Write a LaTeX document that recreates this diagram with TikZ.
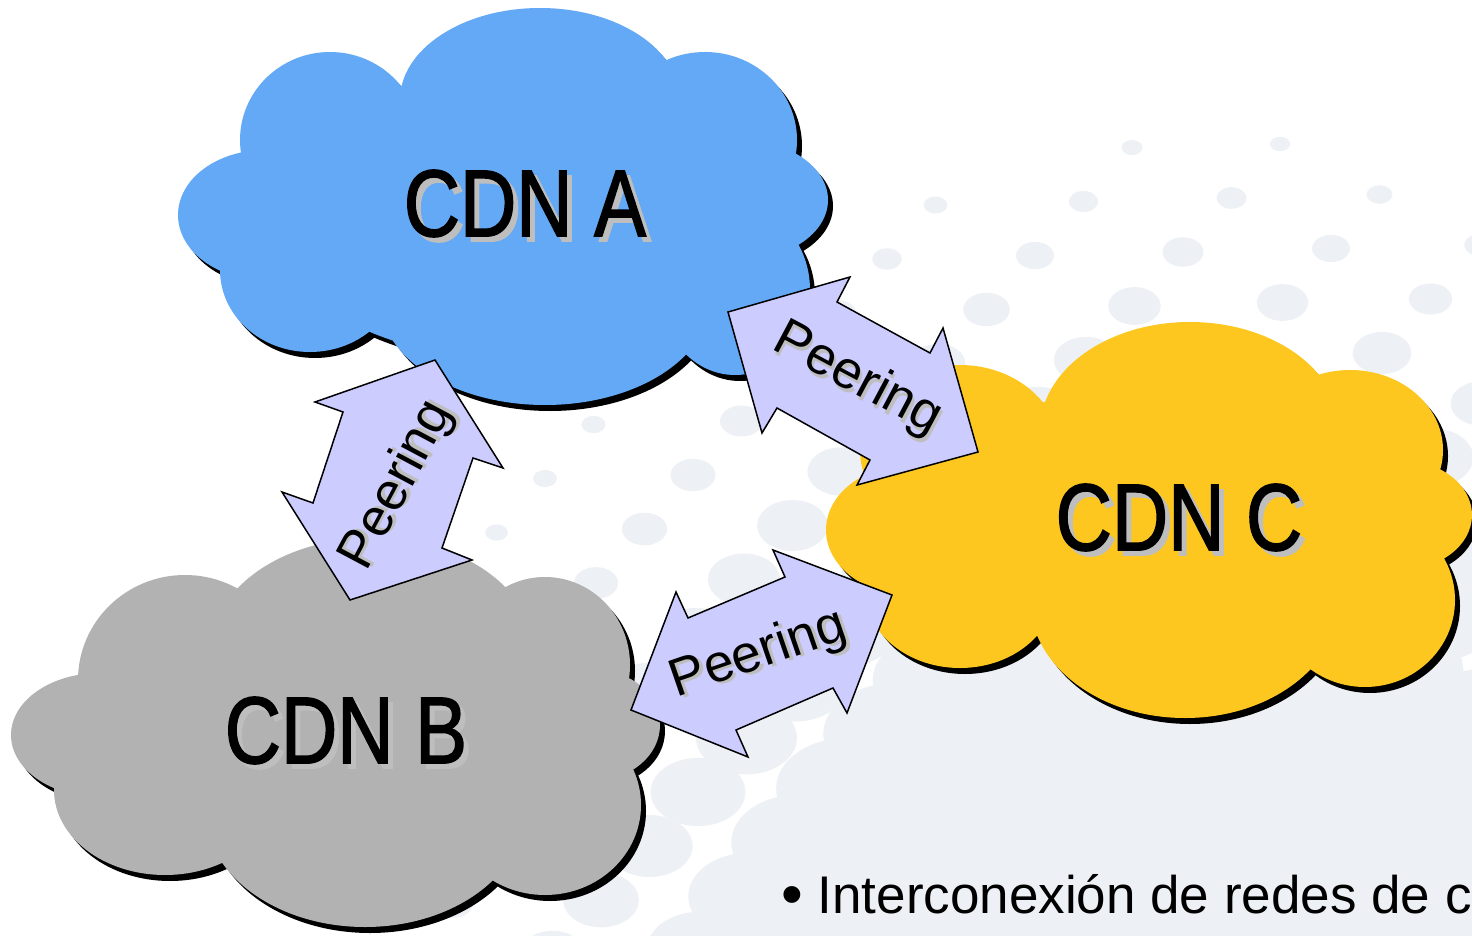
\documentclass[tikz,border=0pt]{standalone}
\usepackage{fontspec}
\setmainfont{Liberation Sans}
\newfontfamily\narrowfont[FakeStretch=0.82,FakeBold=1.5]{Liberation Sans}
\definecolor{dotc}{RGB}{237,240,244}
\definecolor{cloudA}{RGB}{99,169,246}
\definecolor{cloudB}{RGB}{178,178,178}
\definecolor{cloudC}{RGB}{253,199,32}
\definecolor{arrowc}{RGB}{204,204,255}
\definecolor{shgray}{RGB}{190,190,190}
\newcommand\mycloud[2]{%
  \fill[black,shift={(5,6)}] \foreach \a/\b/\c/\d in {#2} {(\a,\b) ellipse [x radius=\c,y radius=\d]};
  \fill[#1] \foreach \a/\b/\c/\d in {#2} {(\a,\b) ellipse [x radius=\c,y radius=\d]};
}
\newcommand\shadowed[2]{\rlap{\kern#1\raisebox{-#1}{\textcolor{shgray}{#2}}}#2}
\tikzset{
  cdnlbl/.style={inner sep=0pt,font=\narrowfont\fontsize{95}{100}\selectfont},
  peerlbl/.style={inner sep=0pt,font=\fontsize{53}{60}\selectfont},
  blockarrow/.style={fill=arrowc,draw=black,line width=1.5pt,line join=miter},
}
\begin{document}
\begin{tikzpicture}[x=1pt,y=-1pt]
\useasboundingbox (0,0) rectangle (1472,936);
\clip (0,0) rectangle (1472,936);
\fill[white] (0,0) rectangle (1472,936);
% background halftone dots
\foreach \j in {-1,...,17} {
  \foreach \i in {-9,...,7} {
    \pgfmathsetmacro\px{1280+148*\i-48.5*\j}
    \pgfmathsetmacro\py{144+54*\j-3.5*\i}
    \pgfmathsetmacro\tt{(860-100*veclen((1200-\px)/100,(1000-\py)/100))/100}
    \pgfmathsetmacro\rr{min(110,10+8*\tt+1.2*\tt*\tt)}
    \pgfmathsetmacro\ry{0.72*\rr}
    \ifdim \tt pt > -0.08pt
      \fill[dotc] (\px,\py) ellipse [x radius=\rr, y radius=\ry];
    \fi
  }
}
% clouds
\mycloud{cloudA}{520/220/250/140, 540/100/140/92, 330/140/90/88, 265/215/87/65, 310/270/90/82, 545/300/165/105, 735/290/75/85, 740/200/88/60, 705/140/92/88}
\mycloud{cloudB}{350/740/230/120, 100/735/89/62, 185/680/107/105, 372/650/161/112, 545/665/85/88, 595/725/65/55, 545/805/96/90, 365/810/160/117, 165/790/111/85}
\mycloud{cloudC}{1150/520/250/130, 1190/430/150/108, 960/450/100/85, 910/530/84/65, 960/590/95/78, 1185/600/155/118, 1365/600/90/87, 1400/515/72/55, 1350/450/93/80}
% cloud labels
\node[cdnlbl] (cdnA) at (525,206) {\shadowed{5pt}{CDN A}};
\node[cdnlbl] (cdnB) at (346,733) {\shadowed{5pt}{CDN B}};
\node[cdnlbl] (cdnC) at (1179,520) {\shadowed{5pt}{CDN C}};
% peering block arrows
\draw[blockarrow] (728,312) -- (850,277) -- (837,302) -- (930,353) -- (943,328) -- (978,452) -- (857,485) -- (870,460) -- (777,408) -- (762,433) -- cycle;
\draw[blockarrow] (892,595) -- (773,550) -- (785,577) -- (688,618) -- (676,592) -- (631,710) -- (748,757) -- (736,730) -- (833,688) -- (847,713) -- cycle;
\draw[blockarrow] (435,360) -- (503,468) -- (473,458) -- (442,548) -- (472,560) -- (350,600) -- (282,492) -- (313,503) -- (343,412) -- (315,402) -- cycle;
\node[peerlbl,rotate=-28] (pAC) at (857,381) {\shadowed{3pt}{Peering}};
\node[peerlbl,rotate=19] (pBC) at (759,656) {\shadowed{3pt}{Peering}};
\node[peerlbl,rotate=62] (pAB) at (399,486) {\shadowed{3pt}{Peering}};
% bullet text
\node[anchor=base west,inner sep=0pt,font=\fontsize{53}{60}\selectfont] (bullet) at (781,913) {\raisebox{-2pt}{\fontsize{62}{60}\selectfont\textbullet}\ Interconexión de redes de c};
\end{tikzpicture}
\end{document}
